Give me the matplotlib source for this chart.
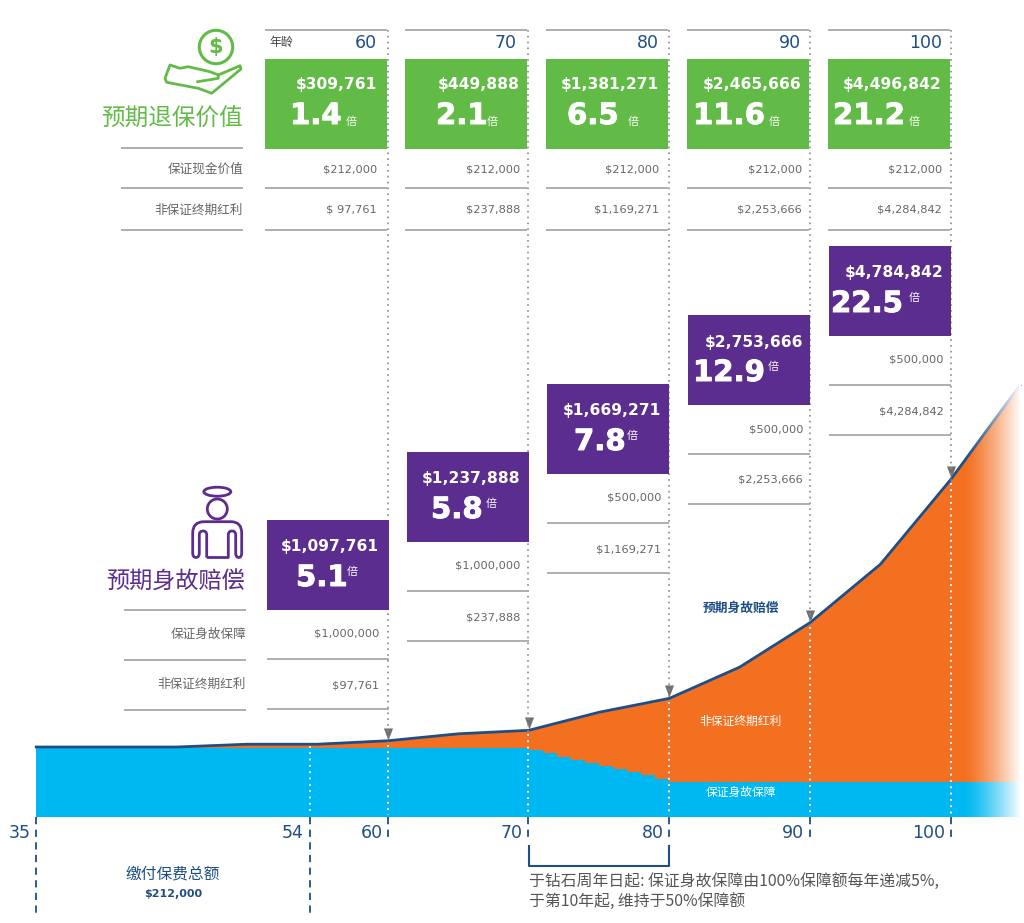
import numpy as np
import matplotlib
matplotlib.use("Agg")
import matplotlib.pyplot as plt
import matplotlib.patheffects as pe
from matplotlib.patches import Rectangle, Circle, Ellipse, Polygon, PathPatch
from matplotlib.path import Path

plt.rcParams['font.family'] = ['Noto Sans CJK SC', 'DejaVu Sans']

# chart values, in millions of dollars
total_ages = [35, 40, 45, 50, 55, 60, 65, 70, 75, 80, 85, 90, 95, 100, 104.9]
total_value = [1.0, 1.0, 1.0, 1.04, 1.04, 1.09, 1.19, 1.24, 1.5, 1.70, 2.15, 2.79, 3.63, 4.85, 6.2]
guar_ages = [35, 70, 71, 72, 73, 74, 75, 76, 77, 78, 79, 80, 104.9]
guar_value = [0.985, 0.95, 0.91, 0.86, 0.81, 0.77, 0.72, 0.68, 0.64, 0.59, 0.54, 0.50, 0.50]

col_ages = [60, 70, 80, 90, 100]
surr_total = ["$309,761", "$449,888", "$1,381,271", "$2,465,666", "$4,496,842"]
surr_mult = ["1.4", "2.1", "6.5", "11.6", "21.2"]
surr_guar = ["$212,000", "$212,000", "$212,000", "$212,000", "$212,000"]
surr_bonus = ["$ 97,761", "$237,888", "$1,169,271", "$2,253,666", "$4,284,842"]
death_total = ["$1,097,761", "$1,237,888", "$1,669,271", "$2,753,666", "$4,784,842"]
death_mult = ["5.1", "5.8", "7.8", "12.9", "22.5"]
death_guar = ["$1,000,000", "$1,000,000", "$500,000", "$500,000", "$500,000"]
death_bonus = ["$97,761", "$237,888", "$1,169,271", "$2,253,666", "$4,284,842"]

GREEN = "#62bb46"
PURPLE = "#5b2d8e"
ORANGE = "#f37021"
BLUE = "#00b8f1"
NAVY = "#1f4e86"
GREY = "#666666"
RULE = "#a8a8a8"
LATIN = "DejaVu Sans"

W, H = 1024, 923
PX_PER_YEAR = 14.07
PX_PER_M = 69.5
BASE_Y = 816.5

fig = plt.figure(figsize=(W / 100, H / 100), dpi=100)

# area chart, limits set so age 60 falls on x=388 and zero on y=816.5
ax = fig.add_axes([0, 0, 1, 1])
ax.set_xlim(60 - 388 / PX_PER_YEAR, 60 + (W - 388) / PX_PER_YEAR)
ax.set_ylim(-(H - BASE_Y) / PX_PER_M, BASE_Y / PX_PER_M)
ax.axis("off")
ax.fill_between(total_ages, 0, total_value, color=ORANGE, lw=0, zorder=2)
ax.fill_between(guar_ages, 0, guar_value, step="post", color=BLUE, lw=0, zorder=3)
ax.plot(total_ages, total_value, color=NAVY, lw=2, zorder=4)

# everything else is laid out in pixels on top
ov = fig.add_axes([0, 0, 1, 1])
ov.patch.set_alpha(0)
ov.axis("off")

# fade out to the right
fade = np.ones((2, 256, 4))
fade[:, :, 3] = np.linspace(0, 1, 256) ** 1.3
ov.imshow(fade, extent=[965, 1021, 818, 375], aspect="auto", zorder=5)
ov.set_xlim(0, W)
ov.set_ylim(H, 0)

green_left = [265, 405, 546, 687, 828]
green_money_x = [377, 520, 659, 802, 942]
green_big_x = [290, 436, 567, 693, 833]
green_bei_x = [351, 492, 633, 774, 914]
purple_left = [267, 407, 547, 688, 829]
purple_top = [520, 452, 384, 315, 246]
purple_money_x = [379, 520, 661, 803, 944]
purple_big_x = [296, 431, 574, 693, 831]
purple_bei_x = [352, 491, 632, 773, 914]
line_x = [388, 528, 669, 810, 951]
tick_label_x = [383, 523, 664, 804, 945]
age_label_x = [377, 517, 659, 801, 942]
BOX_W = 122
BOX_H = 90
ARROW = [(-0.75, 1), (0.75, 1), (0, -1)]


def rule(x0, x1, y):
    ov.plot([x0, x1], [y, y], color=RULE, lw=1.3, zorder=6, solid_capstyle="butt")


def label(x, y, s, size=9.1, color=GREY, ha="right", weight="normal", family=None):
    kw = {}
    if family:
        kw["family"] = family
    return ov.text(x, y, s, fontsize=size, color=color, ha=ha, va="center",
                   weight=weight, zorder=8, **kw)


def amount(x, y, s):
    label(x, y, s, size=8.2, color=GREY, family=LATIN)


def money(x, y, s):
    label(x, y, s, size=11.2, color="white", weight="bold", family=LATIN)


def big(x, y, s):
    t = label(x, y, s, size=21, color="white", ha="left", weight="bold", family=LATIN)
    t.set_path_effects([pe.withStroke(linewidth=0.7, foreground="white")])


# guide lines from the top of the page down to the curve
for i, age in enumerate(col_ages):
    x = line_x[i]
    ov.plot([x, x], [30, 812], color="#8a8a8a", lw=1.2, ls=(0, (1, 2.5)), zorder=1)
    val = total_value[total_ages.index(age)]
    ax.plot([age], [val + 0.1], marker=ARROW, ms=8.7, color="#707070", mec="none", zorder=5)
    ov.plot([x, x], [817, 840], color=NAVY, lw=1.3, ls=(0, (4, 3)), zorder=6)
    y_area = BASE_Y - val * PX_PER_M
    ov.plot([x, x], [y_area + 4, 815], color="white", lw=1.3, ls=(0, (1, 2.5)), zorder=6)
    label(tick_label_x[i], 833, str(age), size=12.5, color=NAVY, family=LATIN)

# age 54 and age 35 markers
x54 = 310
ov.plot([x54, x54], [746, 815], color="white", lw=1.3, ls=(0, (1, 2.5)), zorder=6)
ov.plot([x54, x54], [817, 918], color=NAVY, lw=1.3, ls=(0, (4, 3)), zorder=6)
ov.plot([36, 36], [817, 918], color=NAVY, lw=1.3, ls=(0, (4, 3)), zorder=6)
label(304, 833, "54", size=12.5, color=NAVY, family=LATIN)
label(31, 833, "35", size=12.5, color=NAVY, family=LATIN)
label(173, 874, "缴付保费总额", size=11.3, color=NAVY, ha="center")
label(173, 894, "$212,000", size=8, color=NAVY, ha="center", weight="bold", family=LATIN)

# bracket for the step-down period
ov.plot([529, 529, 669, 669], [846, 866, 866, 846], color=NAVY, lw=1.5, zorder=6)
label(529, 881, "于钻石周年日起: 保证身故保障由100%保障额每年递减5%,", size=11.4, color="#555555", ha="left")
label(529, 901, "于第10年起, 维持于50%保障额", size=11.4, color="#555555", ha="left")

# labels inside the chart
label(741, 608, "预期身故赔偿", size=9.2, color=NAVY, ha="center", weight="bold")
label(741, 721, "非保证终期红利", size=8.5, color="white", ha="center")
label(741, 792, "保证身故保障", size=8.5, color="white", ha="center")

# surrender value columns
for i in range(5):
    left = green_left[i]
    rule(left, left + BOX_W, 30)
    ov.add_patch(Rectangle((left, 59), BOX_W, BOX_H, color=GREEN, lw=0, zorder=7))
    label(age_label_x[i], 43, str(col_ages[i]), size=12.5, color=NAVY, family=LATIN)
    money(green_money_x[i], 85, surr_total[i])
    big(green_big_x[i], 116, surr_mult[i])
    label(green_bei_x[i], 122, "倍", size=8, color="white", ha="center")
    amount(green_money_x[i], 169, surr_guar[i])
    amount(green_money_x[i], 210, surr_bonus[i])
    rule(left, left + BOX_W, 188)
    rule(left, left + BOX_W, 230)
label(269, 42, "年龄", size=8.6, color="#444444", ha="left")

rule(121, 243, 148)
rule(121, 243, 188)
rule(121, 243, 230)
label(243, 119, "预期退保价值", size=17, color=GREEN)
label(243, 169, "保证现金价值")
label(243, 210, "非保证终期红利")

# death benefit columns
for i in range(5):
    left = purple_left[i]
    top = purple_top[i]
    ov.add_patch(Rectangle((left, top), BOX_W, BOX_H, color=PURPLE, lw=0, zorder=7))
    money(purple_money_x[i], top + 27, death_total[i])
    big(purple_big_x[i], top + 58, death_mult[i])
    label(purple_bei_x[i], top + 52, "倍", size=8, color="white", ha="center")
    amount(purple_money_x[i], top + 114, death_guar[i])
    amount(purple_money_x[i], top + 165, death_bonus[i])
    rule(left, left + BOX_W, top + 139)
    rule(left, left + BOX_W, top + 189)

rule(124, 246, 610)
rule(124, 246, 660)
rule(124, 246, 710)
label(245, 582, "预期身故赔偿", size=16.7, color=PURPLE, weight="medium")
label(246, 634, "保证身故保障")
label(246, 684, "非保证终期红利")

# hand and coin icon
ov.add_patch(Circle((216, 47), 16.7, fc="none", ec=GREEN, lw=2.2, zorder=8))
label(216, 46.5, "$", size=15, color=GREEN, ha="center", weight="bold", family=LATIN)
hand = [(170, 65), (180, 68.3), (188.3, 66.7), (198.3, 69), (210, 71.7), (218.3, 75), (240, 65.7),
        (241, 69), (211.7, 93.3), (198.3, 88.3), (166.7, 82.3), (165, 78.3)]
ov.add_patch(Polygon(hand, closed=True, fc="none", ec=GREEN, lw=2, joinstyle="round", zorder=8))
ov.plot([197.7, 208.3, 218.3, 218.3], [81.7, 80, 78.3, 75], color=GREEN, lw=2, zorder=8)

# angel icon
ov.add_patch(Ellipse((217.3, 491.7), 27, 9, fc="none", ec=PURPLE, lw=2, zorder=8))
ov.add_patch(Circle((217.3, 509), 10, fc="none", ec=PURPLE, lw=2, zorder=8))
body_verts = [(206.7, 557.5), (206.7, 535), (206.7, 531), (203, 531), (199.3, 531), (199.3, 535),
              (199.3, 553), (199.3, 557.5), (196, 557.5), (192.7, 557.5), (192.7, 553), (192.7, 533),
              (192.7, 521.7), (204, 521.7), (231, 521.7), (241.7, 521.7), (241.7, 533), (241.7, 553),
              (241.7, 557.5), (238.7, 557.5), (235.7, 557.5), (235.7, 553), (235.7, 535), (235.7, 531),
              (232, 531), (228.3, 531), (228.3, 535), (228.3, 557.5), (206.7, 557.5)]
C3 = Path.CURVE3
L = Path.LINETO
body_codes = [Path.MOVETO, L, C3, C3, C3, C3, L, C3, C3, C3, C3, L, C3, C3, L, C3, C3, L,
              C3, C3, C3, C3, L, C3, C3, C3, C3, L, L]
ov.add_patch(PathPatch(Path(body_verts, body_codes), fc="none", ec=PURPLE, lw=2,
                       joinstyle="round", zorder=8))

fig.savefig("out.png", dpi=100)
